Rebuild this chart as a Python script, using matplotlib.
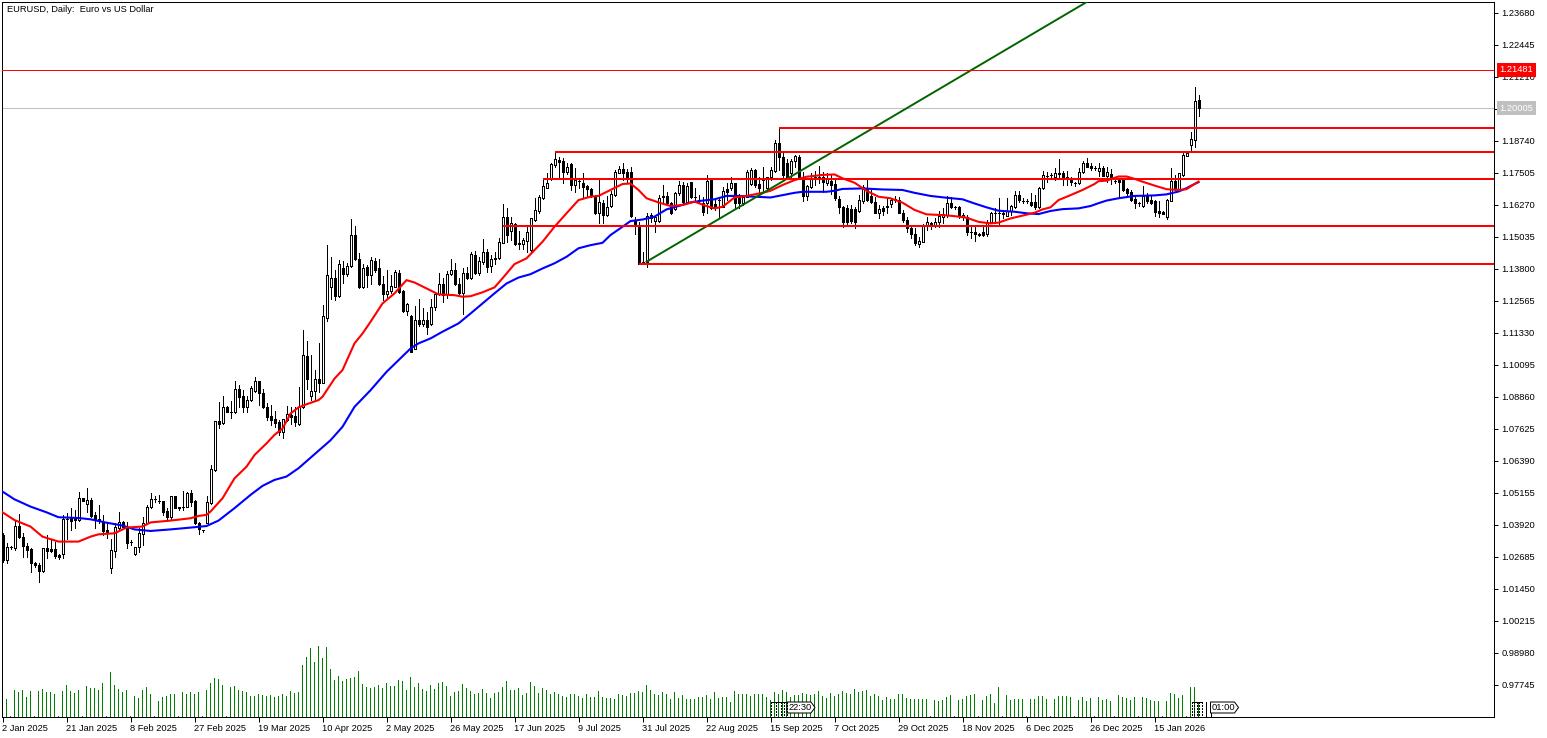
import matplotlib
matplotlib.use("Agg")
import matplotlib.pyplot as plt
from matplotlib.patches import Polygon

FONT = "Liberation Sans"
FS = 6.7

opens = [
1.0354,1.0257,1.0306,1.0302,1.0388,1.0345,1.0312,1.0299,1.0244,1.0238,
1.0216,1.0302,1.0298,1.0298,1.0275,1.0279,1.0415,1.0418,1.0418,1.0411,
1.0495,1.0473,1.0489,1.0431,1.0414,1.0405,1.0373,1.0225,1.0293,1.0379,
1.0402,1.0386,1.0325,1.0280,1.0306,1.0357,1.0399,1.0460,1.0492,1.0486,
1.0485,1.0446,1.0424,1.0503,1.0460,1.0463,1.0463,1.0514,1.0485,1.0401,
1.0373,1.0401,1.0476,1.0605,1.0794,1.0785,1.0846,1.0830,1.0830,1.0916,
1.0888,1.0849,1.0875,1.0911,1.0946,1.0900,1.0846,1.0813,1.0800,1.0791,
1.0749,1.0798,1.0816,1.0812,1.0781,1.0846,1.1045,1.0889,1.0910,1.0954,
1.0941,1.1192,1.1311,1.1347,1.1275,1.1382,1.1360,1.1391,1.1511,1.1417,
1.1309,1.1386,1.1356,1.1410,1.1382,1.1324,1.1283,1.1295,1.1311,1.1365,
1.1296,1.1219,1.1198,1.1073,1.1183,1.1167,1.1183,1.1167,1.1232,1.1283,
1.1324,1.1283,1.1360,1.1378,1.1324,1.1288,1.1365,1.1344,1.1434,1.1365,
1.1408,1.1444,1.1391,1.1421,1.1421,1.1481,1.1579,1.1528,1.1553,1.1481,
1.1476,1.1489,1.1453,1.1569,1.1605,1.1653,1.1694,1.1726,1.1781,1.1800,
1.1797,1.1753,1.1785,1.1704,1.1719,1.1713,1.1700,1.1689,1.1656,1.1597,
1.1636,1.1588,1.1623,1.1665,1.1752,1.1765,1.1756,1.1756,1.1569,1.1550,
1.1408,1.1408,1.1588,1.1566,1.1566,1.1662,1.1662,1.1633,1.1610,1.1672,
1.1704,1.1640,1.1714,1.1659,1.1647,1.1633,1.1633,1.1723,1.1629,1.1646,
1.1620,1.1687,1.1691,1.1710,1.1665,1.1633,1.1659,1.1708,1.1762,1.1708,
1.1730,1.1691,1.1734,1.1759,1.1865,1.1811,1.1788,1.1749,1.1798,1.1813,
1.1730,1.1662,1.1698,1.1736,1.1736,1.1734,1.1710,1.1719,1.1708,1.1649,
1.1620,1.1614,1.1610,1.1610,1.1604,1.1642,1.1691,1.1662,1.1640,1.1597,
1.1614,1.1623,1.1629,1.1649,1.1646,1.1597,1.1571,1.1537,1.1517,1.1476,
1.1485,1.1550,1.1559,1.1550,1.1562,1.1582,1.1588,1.1633,1.1618,1.1618,
1.1582,1.1582,1.1524,1.1524,1.1517,1.1521,1.1514,1.1562,1.1595,1.1597,
1.1595,1.1586,1.1605,1.1620,1.1665,1.1642,1.1642,1.1640,1.1640,1.1620,
1.1691,1.1738,1.1743,1.1734,1.1752,1.1752,1.1734,1.1726,1.1710,1.1710,
1.1753,1.1788,1.1779,1.1771,1.1760,1.1769,1.1740,1.1746,1.1720,1.1726,
1.1724,1.1688,1.1676,1.1649,1.1634,1.1625,1.1666,1.1646,1.1643,1.1605,
1.1601,1.1580,1.1644,1.1721,1.1685,1.1743,1.1818,1.1859,1.1878,1.2033]

highs = [
1.0360,1.0321,1.0312,1.0411,1.0435,1.0360,1.0321,1.0302,1.0251,1.0247,
1.0305,1.0354,1.0334,1.0328,1.0279,1.0431,1.0437,1.0457,1.0448,1.0521,
1.0497,1.0534,1.0495,1.0444,1.0469,1.0431,1.0399,1.0337,1.0399,1.0441,
1.0409,1.0405,1.0334,1.0309,1.0379,1.0424,1.0469,1.0514,1.0502,1.0508,
1.0485,1.0457,1.0503,1.0503,1.0463,1.0523,1.0521,1.0527,1.0489,1.0405,
1.0373,1.0502,1.0624,1.0795,1.0868,1.0890,1.0852,1.0871,1.0948,1.0933,
1.0913,1.0890,1.0929,1.0965,1.0948,1.0916,1.0864,1.0855,1.0832,1.0798,
1.0800,1.0850,1.0848,1.0848,1.0925,1.1144,1.1103,1.1048,1.0990,1.1093,
1.1241,1.1472,1.1427,1.1378,1.1414,1.1412,1.1405,1.1573,1.1546,1.1440,
1.1401,1.1395,1.1427,1.1421,1.1417,1.1353,1.1378,1.1356,1.1378,1.1376,
1.1299,1.1250,1.1202,1.1237,1.1264,1.1228,1.1215,1.1266,1.1283,1.1363,
1.1347,1.1373,1.1417,1.1404,1.1344,1.1382,1.1389,1.1447,1.1450,1.1427,
1.1494,1.1459,1.1434,1.1447,1.1498,1.1629,1.1614,1.1579,1.1556,1.1528,
1.1501,1.1543,1.1575,1.1653,1.1665,1.1726,1.1752,1.1790,1.1833,1.1811,
1.1807,1.1788,1.1790,1.1768,1.1726,1.1749,1.1704,1.1691,1.1665,1.1723,
1.1646,1.1662,1.1682,1.1762,1.1777,1.1790,1.1765,1.1772,1.1582,1.1562,
1.1447,1.1595,1.1595,1.1588,1.1665,1.1704,1.1678,1.1640,1.1678,1.1721,
1.1717,1.1710,1.1717,1.1691,1.1665,1.1659,1.1743,1.1730,1.1646,1.1659,
1.1698,1.1710,1.1736,1.1713,1.1669,1.1665,1.1762,1.1768,1.1765,1.1736,
1.1775,1.1736,1.1772,1.1878,1.1923,1.1837,1.1803,1.1803,1.1820,1.1820,
1.1756,1.1704,1.1752,1.1759,1.1777,1.1756,1.1752,1.1743,1.1730,1.1662,
1.1623,1.1627,1.1627,1.1618,1.1665,1.1704,1.1723,1.1691,1.1659,1.1627,
1.1623,1.1653,1.1653,1.1662,1.1659,1.1608,1.1579,1.1543,1.1537,1.1505,
1.1553,1.1582,1.1562,1.1575,1.1605,1.1614,1.1662,1.1656,1.1623,1.1623,
1.1595,1.1588,1.1550,1.1550,1.1520,1.1546,1.1571,1.1601,1.1614,1.1653,
1.1608,1.1653,1.1627,1.1681,1.1681,1.1653,1.1649,1.1674,1.1665,1.1698,
1.1759,1.1756,1.1749,1.1768,1.1803,1.1759,1.1759,1.1734,1.1717,1.1768,
1.1797,1.1807,1.1788,1.1777,1.1788,1.1778,1.1773,1.1765,1.1726,1.1726,
1.1730,1.1692,1.1683,1.1666,1.1640,1.1700,1.1675,1.1666,1.1646,1.1644,
1.1603,1.1649,1.1769,1.1743,1.1752,1.1827,1.1830,1.1910,1.2081,1.2052]

lows = [
1.0250,1.0247,1.0299,1.0296,1.0341,1.0270,1.0270,1.0212,1.0231,1.0173,
1.0212,1.0263,1.0289,1.0263,1.0261,1.0266,1.0337,1.0373,1.0379,1.0409,
1.0484,1.0444,1.0424,1.0379,1.0401,1.0354,1.0341,1.0208,1.0270,1.0375,
1.0383,1.0305,1.0315,1.0278,1.0289,1.0315,1.0396,1.0457,1.0482,1.0478,
1.0431,1.0411,1.0411,1.0457,1.0450,1.0450,1.0460,1.0465,1.0396,1.0357,
1.0365,1.0399,1.0473,1.0599,1.0765,1.0782,1.0828,1.0804,1.0823,1.0849,
1.0827,1.0827,1.0872,1.0907,1.0855,1.0843,1.0798,1.0778,1.0772,1.0740,
1.0727,1.0795,1.0780,1.0773,1.0778,1.0842,1.0915,1.0874,1.0876,1.0906,
1.0941,1.1180,1.1266,1.1260,1.1273,1.1327,1.1353,1.1389,1.1414,1.1305,
1.1305,1.1309,1.1324,1.1369,1.1318,1.1262,1.1273,1.1286,1.1309,1.1288,
1.1215,1.1202,1.1060,1.1071,1.1160,1.1160,1.1131,1.1163,1.1221,1.1279,
1.1253,1.1270,1.1356,1.1318,1.1283,1.1206,1.1340,1.1340,1.1360,1.1356,
1.1401,1.1369,1.1369,1.1399,1.1417,1.1479,1.1485,1.1492,1.1472,1.1456,
1.1459,1.1447,1.1447,1.1566,1.1595,1.1649,1.1691,1.1723,1.1775,1.1726,
1.1713,1.1747,1.1685,1.1678,1.1691,1.1659,1.1659,1.1656,1.1592,1.1556,
1.1556,1.1584,1.1618,1.1662,1.1749,1.1723,1.1710,1.1582,1.1517,1.1399,
1.1399,1.1389,1.1562,1.1524,1.1562,1.1640,1.1627,1.1592,1.1608,1.1665,
1.1633,1.1636,1.1653,1.1640,1.1633,1.1588,1.1595,1.1610,1.1608,1.1582,
1.1618,1.1646,1.1685,1.1614,1.1614,1.1627,1.1656,1.1704,1.1698,1.1678,
1.1678,1.1685,1.1723,1.1756,1.1762,1.1736,1.1730,1.1736,1.1772,1.1730,
1.1644,1.1646,1.1691,1.1704,1.1710,1.1678,1.1704,1.1669,1.1646,1.1597,
1.1541,1.1546,1.1556,1.1537,1.1601,1.1636,1.1644,1.1636,1.1595,1.1575,
1.1588,1.1595,1.1618,1.1640,1.1595,1.1562,1.1524,1.1498,1.1472,1.1466,
1.1485,1.1530,1.1533,1.1543,1.1543,1.1556,1.1582,1.1614,1.1610,1.1575,
1.1569,1.1511,1.1498,1.1489,1.1507,1.1507,1.1508,1.1556,1.1556,1.1550,
1.1575,1.1584,1.1588,1.1614,1.1640,1.1636,1.1636,1.1623,1.1610,1.1614,
1.1687,1.1717,1.1734,1.1723,1.1730,1.1704,1.1704,1.1704,1.1701,1.1708,
1.1749,1.1772,1.1762,1.1762,1.1739,1.1739,1.1717,1.1708,1.1711,1.1657,
1.1681,1.1659,1.1644,1.1614,1.1625,1.1621,1.1634,1.1631,1.1585,1.1582,
1.1592,1.1573,1.1644,1.1683,1.1683,1.1740,1.1816,1.1833,1.1849,1.1971]

closes = [
1.0257,1.0306,1.0307,1.0388,1.0345,1.0312,1.0296,1.0244,1.0239,1.0216,
1.0302,1.0293,1.0293,1.0274,1.0267,1.0415,1.0415,1.0409,1.0411,1.0495,
1.0486,1.0489,1.0427,1.0414,1.0410,1.0370,1.0363,1.0296,1.0386,1.0402,
1.0386,1.0324,1.0325,1.0306,1.0360,1.0399,1.0463,1.0493,1.0493,1.0486,
1.0444,1.0424,1.0503,1.0459,1.0457,1.0463,1.0514,1.0482,1.0399,1.0377,
1.0373,1.0480,1.0607,1.0794,1.0783,1.0846,1.0830,1.0830,1.0916,1.0885,
1.0849,1.0875,1.0920,1.0946,1.0900,1.0846,1.0810,1.0798,1.0785,1.0752,
1.0800,1.0822,1.0810,1.0790,1.0846,1.1050,1.0954,1.0909,1.0954,1.0941,
1.1198,1.1356,1.1347,1.1275,1.1399,1.1360,1.1391,1.1511,1.1417,1.1309,
1.1382,1.1356,1.1414,1.1378,1.1322,1.1283,1.1295,1.1314,1.1367,1.1292,
1.1217,1.1243,1.1060,1.1183,1.1167,1.1183,1.1157,1.1232,1.1283,1.1324,
1.1279,1.1360,1.1378,1.1322,1.1286,1.1365,1.1344,1.1438,1.1365,1.1412,
1.1444,1.1389,1.1417,1.1417,1.1485,1.1579,1.1511,1.1556,1.1476,1.1475,
1.1492,1.1521,1.1575,1.1607,1.1659,1.1700,1.1710,1.1784,1.1803,1.1794,
1.1753,1.1775,1.1704,1.1723,1.1719,1.1695,1.1687,1.1665,1.1597,1.1640,
1.1588,1.1618,1.1669,1.1756,1.1765,1.1752,1.1736,1.1584,1.1550,1.1399,
1.1399,1.1584,1.1575,1.1582,1.1653,1.1656,1.1633,1.1597,1.1672,1.1704,
1.1640,1.1701,1.1656,1.1659,1.1645,1.1601,1.1721,1.1614,1.1614,1.1646,
1.1682,1.1678,1.1710,1.1633,1.1633,1.1659,1.1756,1.1762,1.1704,1.1691,
1.1723,1.1734,1.1762,1.1865,1.1811,1.1743,1.1736,1.1798,1.1816,1.1736,
1.1662,1.1700,1.1730,1.1736,1.1736,1.1714,1.1726,1.1704,1.1653,1.1618,
1.1562,1.1562,1.1566,1.1562,1.1646,1.1698,1.1646,1.1640,1.1597,1.1611,
1.1605,1.1618,1.1646,1.1648,1.1597,1.1571,1.1537,1.1515,1.1481,1.1488,
1.1550,1.1562,1.1552,1.1562,1.1584,1.1591,1.1633,1.1618,1.1618,1.1588,
1.1588,1.1521,1.1524,1.1514,1.1510,1.1511,1.1562,1.1595,1.1595,1.1597,
1.1593,1.1604,1.1623,1.1665,1.1646,1.1642,1.1642,1.1627,1.1620,1.1694,
1.1743,1.1738,1.1743,1.1752,1.1747,1.1736,1.1726,1.1717,1.1710,1.1756,
1.1788,1.1775,1.1768,1.1771,1.1769,1.1740,1.1753,1.1730,1.1720,1.1717,
1.1685,1.1672,1.1646,1.1634,1.1634,1.1662,1.1644,1.1636,1.1601,1.1598,
1.1594,1.1646,1.1721,1.1688,1.1749,1.1820,1.1827,1.1881,1.2029,1.2000]

volumes = [
0,18,1,27,25,27,20,26,1,26,
28,25,25,23,1,26,32,26,24,27,
1,31,29,29,27,34,1,45,32,28,
25,27,1,21,19,27,30,23,1,16,
20,21,23,23,1,25,23,25,23,25,
1,27,34,39,38,32,1,30,31,27,
26,25,21,21,23,22,21,22,20,21,
23,21,26,24,25,52,60,69,55,71,
59,70,48,37,41,36,38,39,40,46,
33,30,29,30,32,29,34,31,31,37,
36,27,40,30,34,28,26,32,28,34,
35,31,21,25,26,33,29,26,23,24,
28,24,19,24,25,30,36,27,27,29,
22,24,35,31,24,29,27,23,25,23,
21,20,23,23,21,19,23,20,20,26,
20,19,19,18,23,22,21,24,24,26,
25,32,27,23,22,25,23,18,25,19,
22,18,18,18,20,20,22,18,25,19,
20,20,15,26,23,23,23,21,23,23,
23,20,17,25,23,27,25,20,22,22,
24,23,22,23,26,21,19,24,21,23,
26,24,23,28,25,26,27,21,23,21,
17,20,18,18,23,23,19,18,18,18,
18,18,1,17,16,17,20,22,1,17,
18,21,22,23,1,17,21,23,14,30,
1,22,17,18,18,18,1,18,18,21,
21,18,1,18,21,21,21,20,1,17,
20,16,19,1,20,17,18,16,1,22,
20,19,17,20,1,20,19,17,16,16,
1,16,24,23,19,22,1,30,30,15]

fast_idx = [0,3,7,10,14,19,22,24,28,31,35,37,42,47,49,51,52,55,58,61,63,66,68,70,72,74,76,79,80,83,85,88,90,92,95,98,101,
            103,106,109,113,115,117,120,123,125,128,131,133,135,138,141,144,147,149,152,155,157,159,161,164,167,170,173,176,178,
            180,183,186,190,192,195,198,201,205,208,210,213,216,219,222,225,228,231,235,238,241,244,247,249,252,255,258,260,262,
            264,267,270,273,274,276,279,281,283,285,288,291,294,296,298,299]
fast_ma = [1.0441,1.0411,1.0386,1.0347,1.0328,1.0328,1.0347,1.0356,1.0360,1.0382,1.0386,1.0402,1.0409,1.0418,1.0427,1.0431,1.0444,
           1.0495,1.0572,1.0617,1.0662,1.0707,1.0740,1.0764,1.0822,1.0846,1.0858,1.0874,1.0887,1.0957,1.0990,1.1093,1.1131,1.1176,
           1.1247,1.1286,1.1337,1.1328,1.1305,1.1282,1.1279,1.1273,1.1275,1.1290,1.1309,1.1344,1.1399,1.1421,1.1453,1.1485,1.1543,
           1.1595,1.1646,1.1659,1.1662,1.1685,1.1708,1.1710,1.1685,1.1653,1.1637,1.1623,1.1627,1.1640,1.1623,1.1614,1.1620,1.1656,
           1.1662,1.1674,1.1682,1.1704,1.1723,1.1736,1.1743,1.1745,1.1730,1.1713,1.1682,1.1659,1.1653,1.1636,1.1608,1.1591,1.1588,
           1.1584,1.1578,1.1562,1.1556,1.1559,1.1575,1.1586,1.1597,1.1610,1.1618,1.1646,1.1665,1.1685,1.1708,1.1719,1.1721,1.1737,
           1.1737,1.1728,1.1717,1.1702,1.1688,1.1685,1.1688,1.1708,1.1717]

slow_idx = [0,3,7,11,14,19,22,26,30,33,37,42,47,51,54,58,62,65,68,71,74,82,85,88,92,96,99,102,104,107,110,114,117,120,123,126,129,
            132,135,138,141,144,147,150,152,155,157,160,163,166,169,172,175,178,181,184,188,192,195,198,200,203,206,208,210,215,220,
            225,228,232,236,240,243,246,249,253,256,259,262,265,269,272,274,276,279,283,288,291,294,296,298,299]
slow_ma = [1.0521,1.0491,1.0463,1.0441,1.0422,1.0419,1.0414,1.0401,1.0390,1.0375,1.0369,1.0375,1.0382,1.0388,1.0409,1.0457,1.0508,
           1.0543,1.0566,1.0579,1.0611,1.0719,1.0771,1.0848,1.0912,1.0983,1.1028,1.1073,1.1093,1.1112,1.1138,1.1170,1.1208,1.1247,
           1.1286,1.1324,1.1347,1.1360,1.1382,1.1402,1.1427,1.1460,1.1472,1.1481,1.1511,1.1543,1.1565,1.1571,1.1582,1.1610,1.1623,
           1.1637,1.1644,1.1649,1.1662,1.1662,1.1659,1.1656,1.1665,1.1674,1.1678,1.1678,1.1678,1.1682,1.1689,1.1691,1.1687,1.1685,
           1.1674,1.1662,1.1655,1.1649,1.1633,1.1618,1.1605,1.1601,1.1595,1.1592,1.1604,1.1611,1.1614,1.1623,1.1634,1.1644,1.1653,
           1.1662,1.1664,1.1668,1.1679,1.1692,1.1708,1.1715]

level_prices = [1.19242, 1.18327, 1.17273, 1.15470, 1.13993]
level_starts = [194, 138, 135, 125, 159]
trend_idx = [161, 271]
trend_prices = [1.1408, 1.2410]
resistance = 1.21481
bid = 1.20005

price_ticks = [1.23680,1.22445,1.21210,1.19975,1.18740,1.17505,1.16270,1.15035,1.13800,1.12565,1.11330,1.10095,
               1.08860,1.07625,1.06390,1.05155,1.03920,1.02685,1.01450,1.00215,0.98980,0.97745]
date_labels = ["2 Jan 2025","21 Jan 2025","8 Feb 2025","27 Feb 2025","19 Mar 2025","10 Apr 2025","2 May 2025",
               "26 May 2025","17 Jun 2025","9 Jul 2025","31 Jul 2025","22 Aug 2025","15 Sep 2025","7 Oct 2025",
               "29 Oct 2025","18 Nov 2025","6 Dec 2025","26 Dec 2025","15 Jan 2026"]

W, H = 1547, 738
fig = plt.figure(figsize=(W/100, H/100), dpi=100, facecolor="white")
rect = [2/W, (H-717)/H, 1492/W, 715/H]
PX = 0.72

k = list(range(len(closes)))
xlim = (-0.125, 372.875)
per_px = 0.01235/32
ylim = (1.2368-704*per_px, 1.2368+11*per_px)

# tick volume panel shares the frame of the price panel
vax = fig.add_axes(rect, zorder=1)
vax.set_xlim(*xlim)
vax.set_ylim(0, 715)
vax.axis("off")
vax.bar(k, volumes, width=0.25, color="#008000", linewidth=0)

ax = fig.add_axes(rect, zorder=2)
ax.patch.set_alpha(0)
ax.set_xlim(*xlim)
ax.set_ylim(*ylim)

ax.vlines(k, lows, highs, colors="black", linewidth=PX, antialiased=False, zorder=2)
bottoms = [min(o, c) for o, c in zip(opens, closes)]
sizes = [abs(o - c) for o, c in zip(opens, closes)]
colors = ["white" if c >= o else "black" for o, c in zip(opens, closes)]
ax.bar(k, sizes, bottom=bottoms, width=0.5, color=colors, edgecolor="black",
       linewidth=PX, antialiased=False, zorder=3)

ax.plot(slow_idx, slow_ma, color="#0000ff", lw=1.5, zorder=4)
ax.plot(fast_idx, fast_ma, color="#ff0000", lw=1.5, zorder=5)
ax.plot(trend_idx, trend_prices, color="#006400", lw=1.4, zorder=6)
ax.hlines(level_prices, level_starts, xlim[1], colors="#ff0000", linewidth=1.44, zorder=7)
ax.axhline(resistance, color="#ff0000", lw=PX, antialiased=False, zorder=7)
ax.axhline(bid, color="#c0c0c0", lw=PX, antialiased=False, zorder=1)

for s in ax.spines.values():
    s.set_linewidth(PX)
    s.set_color("black")

ax.yaxis.tick_right()
ax.set_yticks(price_ticks)
ax.set_yticklabels([f"{v:.5f}" for v in price_ticks], fontfamily=FONT, fontsize=FS)
ax.tick_params(axis="y", length=3, width=PX, pad=2.2)
ax.set_xticks(range(0, 16*len(date_labels), 16))
ax.set_xticklabels(date_labels, fontfamily=FONT, fontsize=FS, ha="left")
ax.tick_params(axis="x", length=3.5, width=PX, pad=1.5)

# price tags on the axis
for price, bg in ((resistance, "#ff0000"), (bid, "#c0c0c0")):
    ax.annotate(f"{price:.5f}", xy=(1, price), xycoords=("axes fraction", "data"),
                xytext=(5.5, 0), textcoords="offset pixels", ha="left", va="center",
                color="white", fontfamily=FONT, fontsize=FS, annotation_clip=False, zorder=20,
                bbox=dict(boxstyle="square,pad=0.26", fc=bg, ec="none"))

ax.text(5/1492, 1-7/715, "EURUSD, Daily:  Euro vs US Dollar", transform=ax.transAxes,
        ha="left", va="center", fontfamily=FONT, fontsize=FS, zorder=20)

# session time markers at the bottom of the chart, in pixel space
deco = fig.add_axes([0, 0, 1, 1], zorder=3)
deco.set_xlim(0, W)
deco.set_ylim(H, 0)
deco.axis("off")
def tag(x0, label):
    deco.add_patch(Polygon([(x0, 702), (x0+24, 702), (x0+28, 707.5), (x0+24, 713), (x0, 713)],
                           closed=True, fc="white", ec="black", lw=PX))
    deco.text(x0+13, 707.5, label, ha="center", va="center", fontfamily=FONT, fontsize=FS)
def marks(xs):
    deco.hlines(702, xs[0], xs[-1], colors="black", lw=PX, antialiased=False)
    deco.vlines(xs, 702, 717, colors="black", lw=PX, linestyles=(0, (2, 2)), antialiased=False)
marks([770.5, 775.5, 780.5, 783.5, 786.5])
tag(787, "22:30")
marks([1191.5, 1193.5, 1196.5, 1198.5, 1201.5])
deco.vlines([1205.5], 702, 717, colors="black", lw=PX, antialiased=False)
deco.vlines([1210.5], 713, 717, colors="black", lw=PX, antialiased=False)
tag(1210.5, "01:00")

fig.savefig("out.png", dpi=100)
